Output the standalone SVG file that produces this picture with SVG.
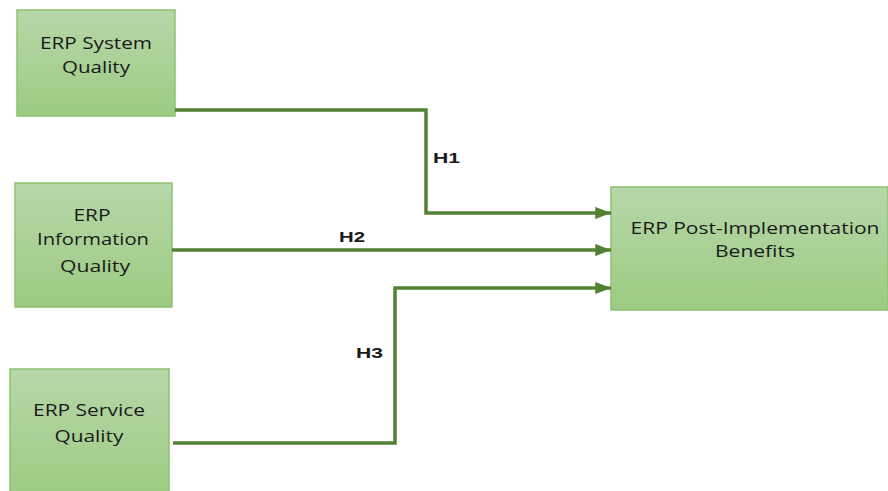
<svg xmlns="http://www.w3.org/2000/svg" width="888" height="491" viewBox="0 0 888 491">
<style>
.box{fill:url(#g);stroke:#8dc26f;stroke-width:1.5}
.t{font-family:"Open Sans","Liberation Sans",sans-serif;font-size:17px;fill:#1a1a1a;text-anchor:middle}
.lbl{font-family:"Liberation Sans",sans-serif;font-size:15px;font-weight:bold;fill:#1a1a1a}
.c{fill:none;stroke:#548235;stroke-width:3.5}
</style>
<defs>
<linearGradient id="g" x1="0" y1="0" x2="0" y2="1">
<stop offset="0" stop-color="#b7d7a8"/>
<stop offset="1" stop-color="#9ccb83"/>
</linearGradient>
<marker id="a" viewBox="0 0 10 10" refX="10" refY="5" markerWidth="4.5" markerHeight="3.5" orient="auto" markerUnits="strokeWidth" preserveAspectRatio="none">
<path d="M0,0 L10,5 L0,10 z" fill="#548235"/>
</marker>
</defs>
<rect width="888" height="491" fill="#fff"/>
<g id="n1"><rect class="box" x="17" y="10" width="158" height="106"/><text class="t" x="96" y="49" textLength="112" lengthAdjust="spacingAndGlyphs">ERP System</text><text class="t" x="96" y="73" textLength="68" lengthAdjust="spacingAndGlyphs">Quality</text></g>
<g id="n2"><rect class="box" x="15" y="183" width="157" height="124"/><text class="t" x="92" y="221" textLength="37" lengthAdjust="spacingAndGlyphs">ERP</text><text class="t" x="93" y="245" textLength="112" lengthAdjust="spacingAndGlyphs">Information</text><text class="t" x="95" y="272" textLength="70" lengthAdjust="spacingAndGlyphs">Quality</text></g>
<g id="n3"><rect class="box" x="10" y="369" width="159" height="130"/><text class="t" x="89" y="416" textLength="112" lengthAdjust="spacingAndGlyphs">ERP Service</text><text class="t" x="89" y="442" textLength="69" lengthAdjust="spacingAndGlyphs">Quality</text></g>
<g id="n4"><rect class="box" x="611" y="187" width="277" height="123"/><text class="t" x="755" y="234" textLength="249" lengthAdjust="spacingAndGlyphs">ERP Post-Implementation</text><text class="t" x="755" y="257" textLength="80" lengthAdjust="spacingAndGlyphs">Benefits</text></g>
<g id="connectors">
<path class="c" d="M175,110 H426 V213 H611" marker-end="url(#a)"/>
<path class="c" d="M172,250 H611" marker-end="url(#a)"/>
<path class="c" d="M173,443 H395 V288 H611" marker-end="url(#a)"/>
<text class="lbl" x="433" y="163" textLength="27" lengthAdjust="spacingAndGlyphs">H1</text>
<text class="lbl" x="339" y="242" textLength="26" lengthAdjust="spacingAndGlyphs">H2</text>
<text class="lbl" x="356" y="358" textLength="27" lengthAdjust="spacingAndGlyphs">H3</text>
</g>
</svg>
